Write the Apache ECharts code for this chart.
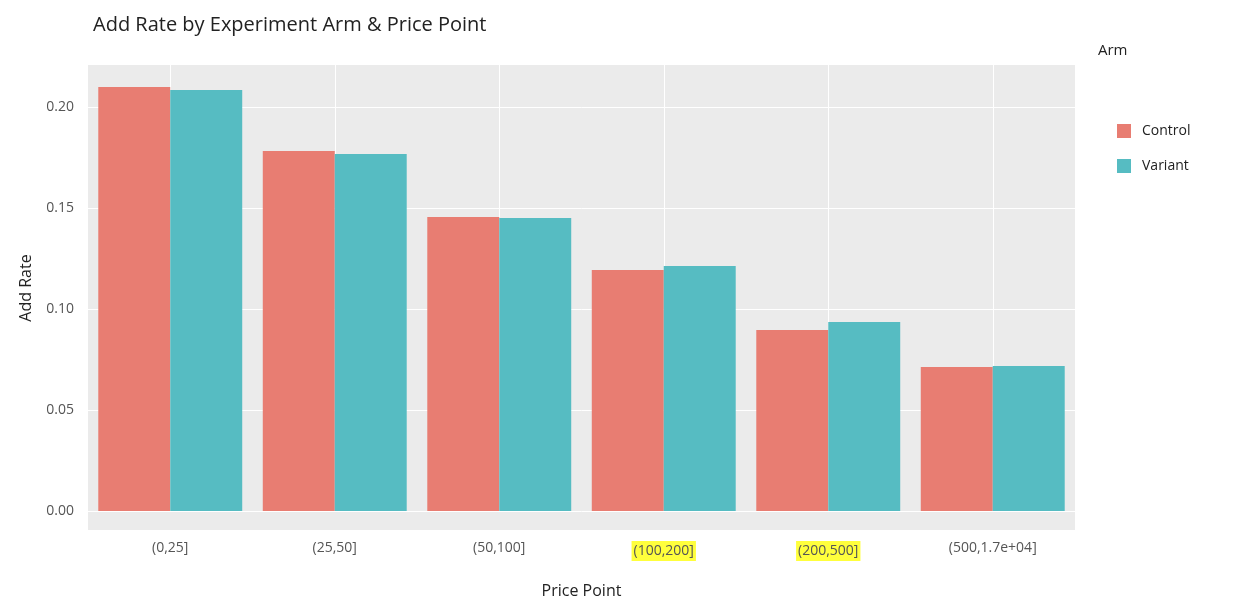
<!DOCTYPE html>
<html><head><meta charset="utf-8">
<script src="https://cdn.jsdelivr.net/npm/echarts@6/dist/echarts.min.js"></script>
<style>html,body{margin:0;padding:0;background:#fff}#c{width:1238px;height:608px}</style>
</head><body><div id="c"></div>
<script>
const categories = ['(0,25]','(25,50]','(50,100]','(100,200]','(200,500]','(500,1.7e+04]'];
const highlighted = ['(100,200]','(200,500]'];
const controlValues = [0.2099,0.1782,0.1455,0.1193,0.0896,0.0713];
const variantValues = [0.2084,0.1767,0.1450,0.1213,0.0936,0.0718];
const yTicks = [0, 0.05, 0.10, 0.15, 0.20];
const font = '"Open Sans", sans-serif';
const chart = echarts.init(document.getElementById('c'));
chart.setOption({
  animation:false,
  textStyle:{fontFamily:font},
  title:{text:'Add Rate by Experiment Arm & Price Point',left:88,top:10,textStyle:{fontSize:20,fontWeight:'normal',color:'#222',fontFamily:font}},
  graphic:[{type:'rect',left:88,top:511,shape:{width:987,height:19},style:{fill:'#EBEBEB'},z:-1},
           {type:'text',left:1098,top:43,style:{text:'Arm',fontSize:15,fill:'#222',fontFamily:font}}],
  legend:{orient:'vertical',left:1112,top:119,itemWidth:14,itemHeight:14,itemGap:21,icon:'rect',
    textStyle:{fontSize:14,color:'#222',padding:[0,0,0,6]},data:['Control','Variant']},
  grid:{left:88,right:163,top:65,bottom:97,show:true,backgroundColor:'#EBEBEB',borderWidth:0},
  xAxis:[{type:'category',data:categories,axisLine:{show:false},axisTick:{show:false},
    name:'Price Point',nameLocation:'middle',nameGap:72,nameTextStyle:{fontSize:16,color:'#222'},
    axisLabel:{margin:30,fontSize:14,color:'#555',formatter:v=>highlighted.includes(v)?'{hl|'+v+'}':v,
      rich:{hl:{backgroundColor:'#FFFF3C',fontSize:14,color:'#555',padding:[3,2,3,2]}}}},
   {type:'category',position:'bottom',boundaryGap:false,data:['0','1','2','3','4','5','6','7','8','9','10','11','12'],
    axisLine:{show:false},axisTick:{show:false},axisLabel:{show:false},
    splitLine:{show:true,interval:(i)=>i%2===1,lineStyle:{color:'#fff',width:1}}}],
  yAxis:{type:'value',min:0,max:0.2208,interval:0.05,
    name:'Add Rate',nameLocation:'middle',nameGap:54,nameRotate:90,nameTextStyle:{fontSize:16,color:'#222'},
    axisLine:{show:false},axisTick:{show:false},
    axisLabel:{fontSize:14,color:'#555',margin:14,showMaxLabel:false,formatter:v=>yTicks.some(t=>Math.abs(t-v)<1e-9)?v.toFixed(2):''},
    splitLine:{show:true,showMaxLine:false,lineStyle:{color:'#fff',width:1}}},
  series:[
    {name:'Control',type:'bar',data:controlValues,barGap:'0%',barCategoryGap:'12.5%',itemStyle:{color:'#E87D72'}},
    {name:'Variant',type:'bar',data:variantValues,barGap:'0%',barCategoryGap:'12.5%',itemStyle:{color:'#56BCC2'}}
  ]
});
</script></body></html>
